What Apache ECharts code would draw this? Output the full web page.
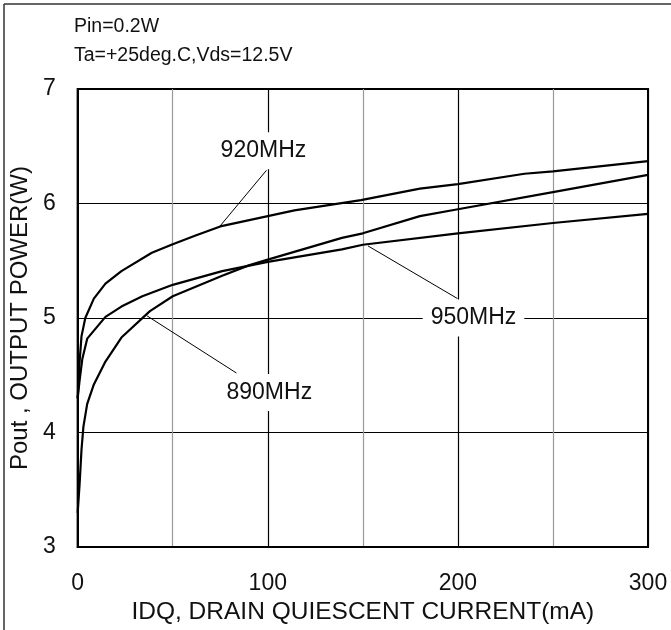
<!DOCTYPE html>
<html>
<head>
<meta charset="utf-8">
<script src="https://cdn.jsdelivr.net/npm/echarts@6/dist/echarts.min.js"></script>
<style>
html,body{margin:0;padding:0;background:#fff;}
#chart{width:671px;height:630px;}
</style>
</head>
<body>
<div id="chart"></div>
<script>
// Data
const idq920 = [0, 1, 2, 4, 8.5, 14.6, 23, 39, 50, 62, 75, 100, 114, 149, 180, 200, 235, 250, 300];
const pout920 = [4.3, 4.62, 4.84, 5.0, 5.17, 5.30, 5.41, 5.57, 5.645, 5.72, 5.80, 5.89, 5.94, 6.03, 6.13, 6.17, 6.26, 6.28, 6.37];

const idq950 = [0, 0.9, 2.4, 5, 14.6, 23, 34, 50, 76, 100, 139, 150, 200, 250, 300];
const pout950 = [4.3, 4.44, 4.64, 4.82, 5.01, 5.10, 5.19, 5.29, 5.41, 5.49, 5.60, 5.64, 5.74, 5.83, 5.91];

const idq890 = [0, 1, 2, 3, 5, 8.5, 14.6, 23, 38, 50, 76, 90, 100, 139, 150, 180, 200, 250, 300];
const pout890 = [3.3, 3.55, 3.85, 4.05, 4.25, 4.42, 4.62, 4.83, 5.06, 5.19, 5.37, 5.46, 5.51, 5.70, 5.74, 5.89, 5.95, 6.10, 6.25];

const seriesNames = ['920MHz', '950MHz', '890MHz'];
const xTickLabels = [0, 100, 200, 300];
const headerLines = ['Pin=0.2W', 'Ta=+25deg.C,Vds=12.5V'];
const xTitle = 'IDQ, DRAIN QUIESCENT CURRENT(mA)';
const yTitle = 'Pout , OUTPUT POWER(W)';

// annotation anchors in data coordinates
const annoText = ['920MHz', '890MHz', '950MHz'];
const annoAt = [[97.7, 6.46], [100.8, 4.35], [208.2, 5.0]];
const leadFrom = [[74.7, 5.80], [36.4, 5.02], [152.7, 5.63]];
const leadTo = [[99.3, 6.29], [83.5, 4.52], [199.8, 5.17]];

const FONT = '"Liberation Sans", Arial, sans-serif';
const zip = (a, b) => a.map((v, i) => [v, b[i]]);

const chart = echarts.init(document.getElementById('chart'), null, {renderer: 'canvas'});
const lineStyle = {color: '#000', width: 2.2};
chart.setOption({
  animation: false,
  backgroundColor: '#fff',
  grid: {left: 75, right: 23, top: 89, bottom: 82, show: true, borderColor: '#000', borderWidth: 2, backgroundColor: 'transparent'},
  xAxis: {
    type: 'value', min: 0, max: 300, interval: 50,
    name: xTitle, nameLocation: 'middle', nameGap: 50,
    nameTextStyle: {fontFamily: FONT, fontSize: 24.5, color: '#111'},
    axisLine: {show: true, lineStyle: {color: '#000', width: 2}},
    axisTick: {show: false},
    axisLabel: {margin: 25, fontFamily: FONT, fontSize: 23, color: '#111',
      formatter: v => xTickLabels.indexOf(v) >= 0 ? String(v) : ''},
    splitLine: {show: true, lineStyle: {color: ['#000', '#999'], width: 1.2}}
  },
  yAxis: {
    type: 'value', min: 3, max: 7, interval: 1,
    name: yTitle, nameLocation: 'middle', nameGap: 39,
    nameTextStyle: {fontFamily: FONT, fontSize: 24, color: '#111'},
    axisLine: {show: true, lineStyle: {color: '#000', width: 2}},
    axisTick: {show: false},
    axisLabel: {margin: 22, fontFamily: FONT, fontSize: 23, color: '#111'},
    splitLine: {show: true, lineStyle: {color: '#000', width: 1.2}}
  },
  series: [
    {name: seriesNames[0], type: 'line', data: zip(idq920, pout920), showSymbol: false, lineStyle, z: 5},
    {name: seriesNames[1], type: 'line', data: zip(idq950, pout950), showSymbol: false, lineStyle, z: 5},
    {name: seriesNames[2], type: 'line', data: zip(idq890, pout890), showSymbol: false, lineStyle, z: 5}
  ]
});

const px = p => chart.convertToPixel({gridIndex: 0}, p);
const graphics = [
  {type: 'line', shape: {x1: 4, y1: 4, x2: 671, y2: 4}, style: {stroke: '#333', lineWidth: 1.5}},
  {type: 'line', shape: {x1: 4, y1: 4, x2: 4, y2: 630}, style: {stroke: '#333', lineWidth: 1.5}},
  {type: 'text', left: 74, top: 17, style: {text: headerLines[0], fontFamily: FONT, fontSize: 19.5, fill: '#111'}},
  {type: 'text', left: 74, top: 46, style: {text: headerLines[1], fontFamily: FONT, fontSize: 19.5, fill: '#111'}}
];
annoText.forEach((t, i) => {
  const a = px(leadFrom[i]), b = px(leadTo[i]), c = px(annoAt[i]);
  graphics.push({type: 'line', z: 20, shape: {x1: a[0], y1: a[1], x2: b[0], y2: b[1]}, style: {stroke: '#000', lineWidth: 1}});
  graphics.push({type: 'text', z: 21, x: c[0], y: c[1], style: {
    text: t, fontFamily: FONT, fontSize: 23, fill: '#111', align: 'center', verticalAlign: 'middle',
    backgroundColor: '#fff', padding: [7, 8]
  }});
});
chart.setOption({graphic: graphics});
</script>
</body>
</html>
